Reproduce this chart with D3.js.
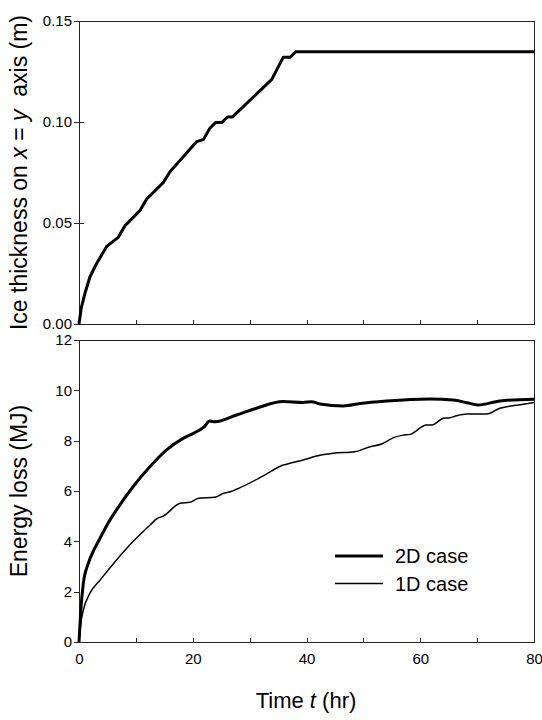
<!DOCTYPE html>
<html>
<head>
<meta charset="utf-8">
<script src="https://cdn.jsdelivr.net/npm/d3@7"></script>
<style>
body { margin: 0; background: #fff; }
text { font-family: Arial, "Liberation Sans", sans-serif; fill: #000; }
</style>
</head>
<body>
<script>
var width = 542;
var height = 720;

// ice thickness (top panel)
var iceTime = [0, 0.4, 1.05, 1.93, 3.1, 4.87, 6.9, 8.1, 10.7, 11.9, 14.8, 16.0, 20.7, 21.9, 23.0, 24.0, 25.1, 26.1, 27.0, 33.9, 35.9, 37.1, 38.1, 80];
var iceThick = [0, 0.008, 0.0152, 0.0234, 0.030, 0.0384, 0.0429, 0.0487, 0.0561, 0.0619, 0.0700, 0.0754, 0.0903, 0.0914, 0.0969, 0.0997, 0.0997, 0.1025, 0.1025, 0.1211, 0.1320, 0.1320, 0.1348, 0.1348];

// energy loss, 2D case
var time2D = [0, 0.3, 0.76, 1.6, 2.6, 3.7, 5.0, 6.6, 9.5, 12.5, 15.4, 18.3, 20.1, 21.9, 23.0, 23.9, 27.7, 31.2, 35.9, 39.4, 40.9, 42.4, 46.5, 49.4, 54.1, 61.7, 65.8, 68.2, 70.2, 74.0, 80];
var energy2D = [0, 1.2, 2.33, 3.1, 3.65, 4.12, 4.68, 5.25, 6.17, 6.97, 7.63, 8.09, 8.29, 8.53, 8.78, 8.75, 9.02, 9.29, 9.56, 9.52, 9.55, 9.46, 9.38, 9.48, 9.58, 9.66, 9.62, 9.51, 9.42, 9.58, 9.65];

// energy loss, 1D case
var time1D = [0, 0.3, 0.76, 1.9, 3.7, 6.6, 9.5, 12.5, 13.7, 14.8, 17.8, 19.5, 21.0, 23.9, 25.4, 26.6, 27.7, 32.4, 35.9, 37.4, 39.4, 41.8, 44.7, 48.5, 51.2, 53.2, 55.3, 57.0, 58.2, 61.1, 62.0, 64.1, 65.2, 66.4, 68.2, 71.7, 74.0, 75.2, 77.3, 80];
var energy1D = [0, 0.7, 1.27, 1.93, 2.46, 3.26, 3.99, 4.65, 4.9, 5.0, 5.51, 5.55, 5.71, 5.75, 5.91, 5.97, 6.07, 6.60, 7.03, 7.12, 7.23, 7.39, 7.50, 7.56, 7.76, 7.87, 8.12, 8.22, 8.25, 8.62, 8.62, 8.89, 8.91, 8.99, 9.06, 9.06, 9.29, 9.35, 9.42, 9.52];

var xTicks = [0, 10, 20, 30, 40, 50, 60, 70, 80];
var iceTicks = [0, 0.05, 0.10, 0.15];
var energyTicks = [0, 2, 4, 6, 8, 10, 12];
var legendNames = ["2D case", "1D case"];

var svg = d3.select("body")
.append("svg")
.attr("width", width)
.attr("height", height);

var x = d3.scaleLinear().domain([0, 80]).range([79, 534]);
var yIce = d3.scaleLinear().domain([0, 0.15]).range([324, 21]);
var yEnergy = d3.scaleLinear().domain([0, 12]).range([642, 340]);

function zip(a, b) {
	return a.map(function(d, i) { return [d, b[i]]; });
}

function styleAxis(g) {
	g.select(".domain").remove();
	g.selectAll(".tick line").attr("stroke", "#222").attr("shape-rendering", "crispEdges");
	g.selectAll(".tick text").attr("font-size", "15px").attr("fill", "#000")
	.attr("font-family", "Arial, 'Liberation Sans', sans-serif");
}

// frames
svg.append("rect")
.attr("x", x(0)).attr("y", yIce(0.15))
.attr("width", x(80) - x(0)).attr("height", yIce(0) - yIce(0.15))
.attr("fill", "none").attr("stroke", "#222").attr("shape-rendering", "crispEdges");

svg.append("rect")
.attr("x", x(0)).attr("y", yEnergy(12))
.attr("width", x(80) - x(0)).attr("height", yEnergy(0) - yEnergy(12))
.attr("fill", "none").attr("stroke", "#222").attr("shape-rendering", "crispEdges");

// top panel axes
svg.append("g")
.attr("transform", "translate(0," + yIce(0) + ")")
.call(d3.axisBottom(x).tickValues(xTicks).tickSize(-4).tickFormat(""))
.call(styleAxis);

svg.append("g")
.attr("transform", "translate(" + x(0) + ",0)")
.call(d3.axisLeft(yIce).tickValues(iceTicks).tickSize(5).tickPadding(2).tickFormat(d3.format(".2f")))
.call(styleAxis)
.selectAll(".tick").append("line")
.attr("x1", 0).attr("x2", 5).attr("stroke", "#222").attr("shape-rendering", "crispEdges");

// bottom panel axes
svg.append("g")
.attr("transform", "translate(0," + yEnergy(0) + ")")
.call(d3.axisBottom(x).tickValues(xTicks).tickSize(-4).tickPadding(11)
	.tickFormat(function(d) { return d % 20 === 0 ? d : ""; }))
.call(styleAxis);

svg.append("g")
.attr("transform", "translate(" + x(0) + ",0)")
.call(d3.axisLeft(yEnergy).tickValues(energyTicks).tickSize(5).tickPadding(2))
.call(styleAxis);

// curves
var iceLine = d3.line()
.x(function(d) { return x(d[0]); })
.y(function(d) { return yIce(d[1]); });

var energyLine = d3.line()
.curve(d3.curveMonotoneX)
.x(function(d) { return x(d[0]); })
.y(function(d) { return yEnergy(d[1]); });

svg.append("path")
.datum(zip(iceTime, iceThick))
.attr("d", iceLine)
.attr("fill", "none").attr("stroke", "#000").attr("stroke-width", 3)
.attr("stroke-linejoin", "round");

svg.append("path")
.datum(zip(time1D, energy1D))
.attr("d", energyLine)
.attr("fill", "none").attr("stroke", "#000").attr("stroke-width", 1.5);

svg.append("path")
.datum(zip(time2D, energy2D))
.attr("d", energyLine)
.attr("fill", "none").attr("stroke", "#000").attr("stroke-width", 3)
.attr("stroke-linejoin", "round");

// legend
var legend = svg.selectAll(".legend")
.data(legendNames)
.enter()
.append("g")
.attr("transform", function(d, i) { return "translate(335," + (556 + i * 27.5) + ")"; });

legend.append("line")
.attr("x1", 0).attr("x2", 48)
.attr("stroke", "#000")
.attr("stroke-width", function(d, i) { return i === 0 ? 3 : 1.5; });

legend.append("text")
.attr("x", 60)
.attr("y", 7)
.attr("font-size", "20px")
.text(function(d) { return d; });

// axis titles
var xTitle = svg.append("text")
.attr("x", 306).attr("y", 708)
.attr("text-anchor", "middle")
.attr("font-size", "22px");
xTitle.append("tspan").text("Time ");
xTitle.append("tspan").attr("font-style", "italic").text("t");
xTitle.append("tspan").text(" (hr)");

var iceTitle = svg.append("text")
.attr("transform", "translate(27," + ((yIce(0) + yIce(0.15)) / 2) + ") rotate(-90)")
.attr("text-anchor", "middle")
.attr("font-size", "23px")
.style("white-space", "pre");
iceTitle.append("tspan").text("Ice thickness on ");
iceTitle.append("tspan").attr("font-style", "italic").text("x");
iceTitle.append("tspan").text(" = ");
iceTitle.append("tspan").attr("font-style", "italic").text("y");
iceTitle.append("tspan").text("  axis (m)");

svg.append("text")
.attr("transform", "translate(27," + ((yEnergy(0) + yEnergy(12)) / 2) + ") rotate(-90)")
.attr("text-anchor", "middle")
.attr("font-size", "23px")
.text("Energy loss (MJ)");
</script>
</body>
</html>
